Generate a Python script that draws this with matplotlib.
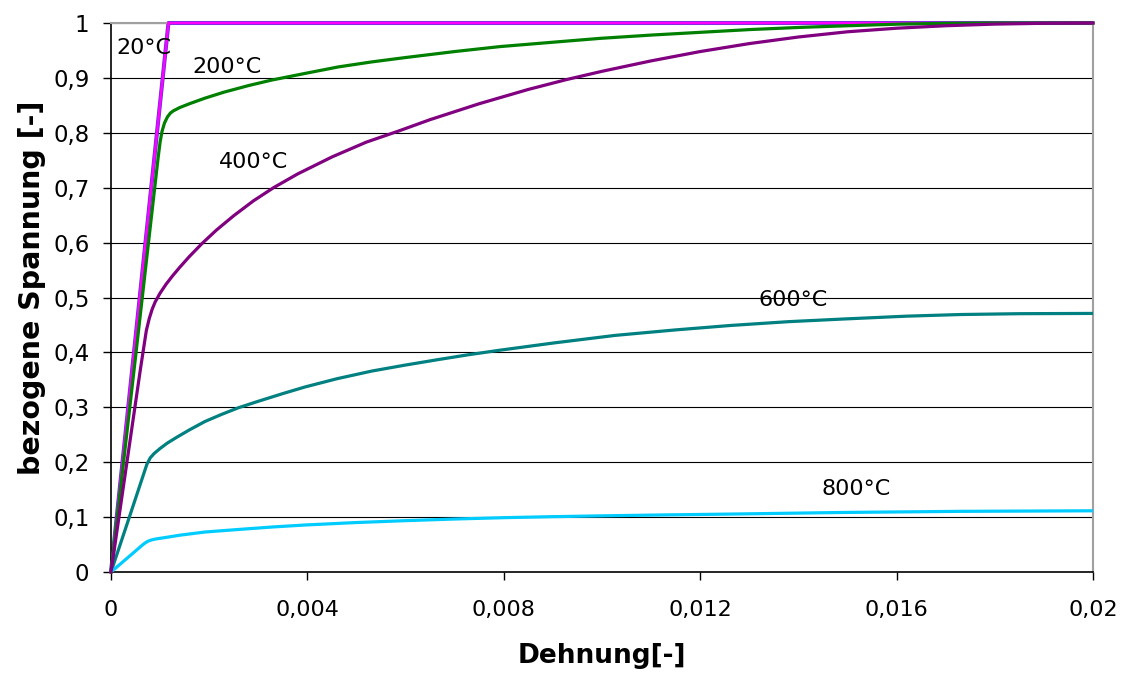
import matplotlib
matplotlib.use("Agg")
import matplotlib.pyplot as plt

# ---- data ----
eps20 = [0.0, 0.00117, 0.02]
sig20 = [0.0, 1.0, 1.0]

eps200 = [0.0, 0.0005, 0.00096, 0.00100, 0.00104, 0.00109, 0.00115, 0.00121, 0.00127,
          0.00140, 0.00160, 0.00191, 0.0023, 0.0028, 0.00327, 0.0040, 0.00463,
          0.0053, 0.00599, 0.0070, 0.00792, 0.0090, 0.00996, 0.0110, 0.0120,
          0.0130, 0.01403, 0.0150, 0.01607, 0.0170, 0.0180, 0.02]
sig200 = [0.0, 0.392, 0.755, 0.783, 0.803, 0.818, 0.829, 0.836, 0.840,
          0.846, 0.853, 0.863, 0.874, 0.886, 0.896, 0.909, 0.920,
          0.929, 0.937, 0.948, 0.957, 0.965, 0.972, 0.978, 0.983,
          0.988, 0.992, 0.995, 0.998, 0.9993, 1.0, 1.0]

eps400 = [0.0, 0.00030, 0.00060, 0.00072, 0.00078, 0.00084, 0.00090, 0.00100,
          0.00112, 0.00125, 0.00140, 0.00160, 0.00185, 0.00215, 0.00250, 0.00290,
          0.00331, 0.00380, 0.00450, 0.00520, 0.00585, 0.0065, 0.0075, 0.0085,
          0.00928, 0.0100, 0.0110, 0.0120, 0.0130, 0.0140, 0.0150, 0.0160,
          0.0170, 0.0180, 0.0190, 0.02]
sig400 = [0.0, 0.185, 0.370, 0.440, 0.462, 0.479, 0.492, 0.508,
          0.524, 0.539, 0.555, 0.575, 0.598, 0.623, 0.649, 0.676,
          0.700, 0.725, 0.756, 0.783, 0.803, 0.824, 0.853, 0.879,
          0.897, 0.912, 0.931, 0.948, 0.9625, 0.9745, 0.984, 0.9905,
          0.995, 0.998, 0.9995, 1.0]

eps600 = [0.0, 0.0004, 0.00073, 0.00080, 0.00088, 0.00100, 0.00115, 0.00135,
          0.00160, 0.00191, 0.00225, 0.00259, 0.0030, 0.0035, 0.00395, 0.0046,
          0.00531, 0.0060, 0.00667, 0.0073, 0.00792, 0.0090, 0.01027, 0.0115,
          0.01261, 0.0138, 0.01496, 0.0162, 0.01731, 0.0185, 0.02]
sig600 = [0.0, 0.107, 0.196, 0.208, 0.216, 0.225, 0.235, 0.246,
          0.259, 0.274, 0.287, 0.299, 0.311, 0.325, 0.337, 0.352,
          0.366, 0.377, 0.387, 0.396, 0.404, 0.417, 0.431, 0.441,
          0.449, 0.456, 0.461, 0.466, 0.469, 0.4705, 0.471]

eps800 = [0.0, 0.0003, 0.00060, 0.00068, 0.00075, 0.00083, 0.00092, 0.00105,
          0.0014, 0.00191, 0.0026, 0.00329, 0.00395, 0.00497, 0.00599, 0.0070,
          0.00802, 0.0090, 0.0100, 0.0113, 0.01261, 0.01496, 0.01731, 0.02]
sig800 = [0.0, 0.023, 0.046, 0.052, 0.056, 0.0585, 0.0603, 0.062,
          0.067, 0.0728, 0.0775, 0.0820, 0.0856, 0.0900, 0.0935, 0.0965,
          0.099, 0.1008, 0.1023, 0.104, 0.1055, 0.1085, 0.1105, 0.1115]

labels = ["20°C", "200°C", "400°C", "600°C", "800°C"]
label_x = [0.000672, 0.00236, 0.00291, 0.01389, 0.01517]
label_y = [0.9545, 0.9199, 0.7468, 0.4954, 0.1512]

x_ticks = [0, 0.004, 0.008, 0.012, 0.016, 0.02]
x_ticklabels = ["0", "0,004", "0,008", "0,012", "0,016", "0,02"]
y_ticks = [0, 0.1, 0.2, 0.3, 0.4, 0.5, 0.6, 0.7, 0.8, 0.9, 1.0]
y_ticklabels = ["0", "0,1", "0,2", "0,3", "0,4", "0,5", "0,6", "0,7", "0,8", "0,9", "1"]

plt.rcParams['font.family'] = ['DejaVu Sans']

fig = plt.figure(figsize=(11.24, 6.77), dpi=100)
ax = fig.add_axes([111/1124, 1 - 572/677, (1093-111)/1124, (572-23)/677])

for yv in y_ticks[1:]:
    ax.axhline(yv, color='black', lw=0.8, zorder=1)

lw = 2.3
ax.plot(eps20, sig20, color='#3c3cd8', lw=2.9, zorder=2.5, solid_capstyle='butt', clip_on=False)
ax.plot(eps20, sig20, color='#ff00ff', lw=2.0, zorder=2.6, solid_capstyle='butt', clip_on=False)
ax.plot(eps200, sig200, color='#008000', lw=lw, zorder=3, clip_on=False)
ax.plot(eps400, sig400, color='#800080', lw=lw, zorder=3.1, clip_on=False)
ax.plot(eps600, sig600, color='#008080', lw=lw, zorder=3)
ax.plot(eps800, sig800, color='#00ccff', lw=lw, zorder=3)

for t, xx, yy in zip(labels, label_x, label_y):
    ax.text(xx, yy, t, fontsize=16, ha='center', va='center', color='black', zorder=5)

ax.set_xlim(0, 0.02)
ax.set_ylim(0, 1)
ax.set_xticks(x_ticks)
ax.set_xticklabels(x_ticklabels, fontsize=16)
ax.set_yticks(y_ticks)
ax.set_yticklabels(y_ticklabels, fontsize=16.5)
ax.tick_params(axis='x', direction='out', length=6, width=1, pad=14)
ax.tick_params(axis='y', direction='out', length=6, width=1, pad=9.5)

for s in ['top', 'right']:
    ax.spines[s].set_color('#a0a0a0')
    ax.spines[s].set_linewidth(1.5)
for s in ['left', 'bottom']:
    ax.spines[s].set_color('black')
    ax.spines[s].set_linewidth(1.2)

ax.set_xlabel("Dehnung[-]", fontsize=19, fontweight='bold', labelpad=17)
ax.set_ylabel("bezogene Spannung [-]", fontsize=20.5, fontweight='bold')
ax.yaxis.set_label_coords(-0.066, 0.517)

fig.savefig("out.png", dpi=100, facecolor='white')
